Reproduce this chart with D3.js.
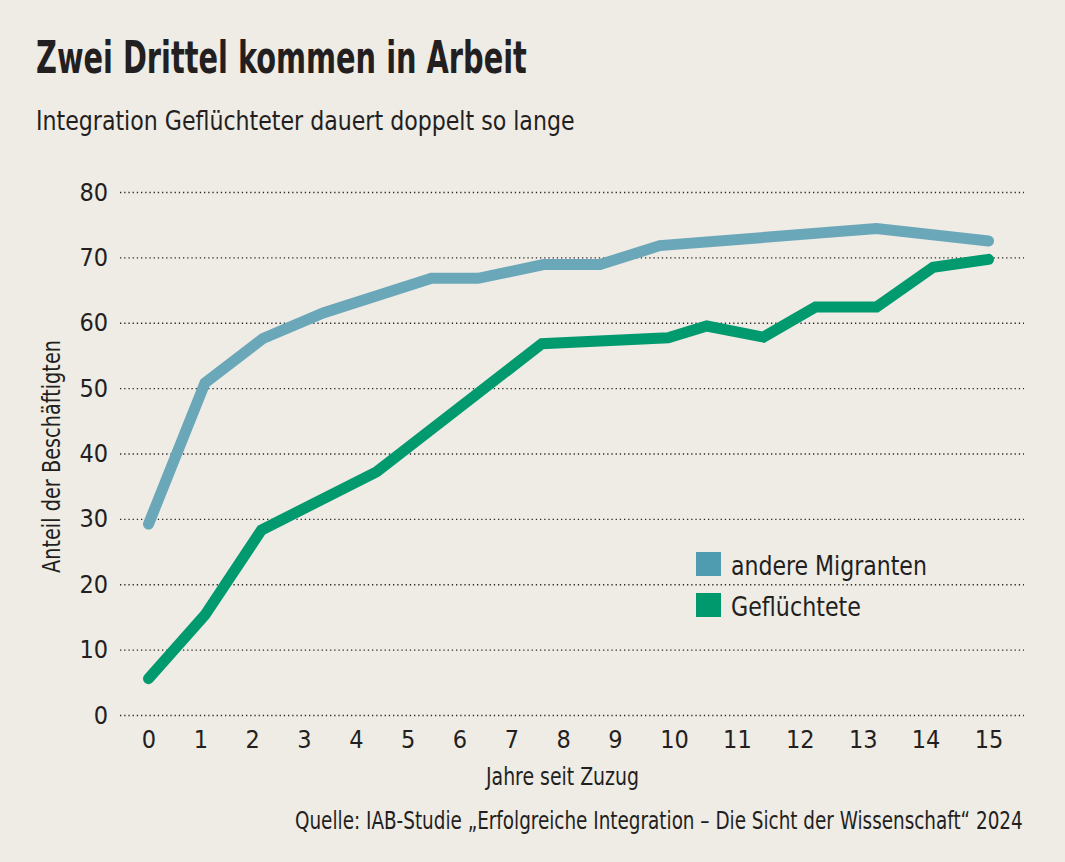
<!DOCTYPE html>
<html>
<head>
<meta charset="utf-8">
<script src="https://cdn.jsdelivr.net/npm/d3@7"></script>
<style>
  html, body { margin: 0; padding: 0; background: #efebe5; }
  svg { display: block; }
  text { font-family: "Liberation Sans Narrow", "DejaVu Sans Condensed", Roboto, sans-serif; fill: #231f20; }
</style>
</head>
<body>
<script>
// ---- data ----
const yTicks = [0, 10, 20, 30, 40, 50, 60, 70, 80];
const xTicks = [0, 1, 2, 3, 4, 5, 6, 7, 8, 9, 10, 11, 12, 13, 14, 15];

// andere Migranten: [Jahre seit Zuzug, Anteil]
const migrantenYears  = [0, 1.09, 2.21, 3.37, 5.46, 6.36, 7.62, 8.71, 9.76, 13.22, 15];
const migrantenValues = [29.2, 50.8, 57.6, 61.5, 66.8, 66.8, 68.9, 68.9, 71.8, 74.4, 72.5];

// Geflüchtete
const fluechtYears  = [0, 1.09, 2.18, 4.40, 7.59, 9.9, 10.52, 11.42, 12.25, 13.22, 14.12, 15];
const fluechtValues = [5.55, 15.3, 28.3, 37.2, 56.8, 57.7, 59.5, 57.8, 62.4, 62.4, 68.5, 69.7];

const seriesNames = ["andere Migranten", "Geflüchtete"];

// ---- layout ----
const W = 1065, H = 862;
const svg = d3.select("body").append("svg").attr("width", W).attr("height", H);
svg.append("rect").attr("width", W).attr("height", H).attr("fill", "#efebe5");

// tick label positions in the reference are not evenly spaced (wider after 10)
const x = d3.scaleLinear().domain([0, 9, 10, 15]).range([148.5, 615, 674, 988.5]);
const y = d3.scaleLinear().domain([0, 80]).range([715, 192]);

const lineColors = ["#6aa7b9", "#009a6e"];
const legendColors = ["#4f9bb0", "#00996d"];

// helper: put text at (tx,ty) and squeeze horizontally to target width
function fitText(g, tx, ty, width, str, size, weight) {
  const t = g.append("text").attr("x", 0).attr("y", 0)
    .attr("font-size", size).attr("font-weight", weight || "normal").text(str);
  const nat = t.node().getComputedTextLength();
  const s = Math.min(1, width / nat);
  t.attr("transform", `translate(${tx},${ty}) scale(${s},1)`);
  return t;
}

// title & subtitle
fitText(svg, 36, 73, 491, "Zwei Drittel kommen in Arbeit", 45, "bold");
fitText(svg, 36, 130, 539, "Integration Geflüchteter dauert doppelt so lange", 27);

// gridlines + y labels
const yAxis = d3.axisLeft(y).tickValues(yTicks).tickSize(0).tickPadding(0);
const gY = svg.append("g").call(yAxis);
gY.select(".domain").remove();
gY.selectAll(".tick text").remove();
gY.selectAll(".tick").append("line")
  .attr("x1", 120).attr("x2", 1024)
  .attr("stroke", "#2a2a2a").attr("stroke-width", 1.3)
  .attr("stroke-dasharray", "1.3,2.9");
gY.selectAll(".tick").append("text")
  .attr("x", 108).attr("y", 8)
  .attr("text-anchor", "end")
  .attr("font-size", 25)
  .attr("fill", "#231f20")
  .text(d => d);

// x labels
const xAxis = d3.axisBottom(x).tickValues(xTicks).tickSize(0).tickPadding(0);
const gX = svg.append("g").call(xAxis);
gX.select(".domain").remove();
gX.selectAll(".tick text")
  .attr("y", 748).attr("dy", null)
  .attr("font-size", 25)
  .attr("font-family", null)
  .attr("fill", "#231f20")
  .attr("text-anchor", "middle");

// axis titles
fitText(svg, 486, 785, 153, "Jahre seit Zuzug", 24);
svg.append("text")
  .attr("transform", "translate(60,456.5) rotate(-90)")
  .attr("text-anchor", "middle").attr("font-size", 25)
  .attr("textLength", 233).attr("lengthAdjust", "spacingAndGlyphs")
  .text("Anteil der Beschäftigten");

// source
fitText(svg, 295, 829, 728, "Quelle: IAB-Studie „Erfolgreiche Integration – Die Sicht der Wissenschaft“ 2024", 24);

// lines
const line = d3.line().x(d => x(d[0])).y(d => y(d[1]));
const series = [
  d3.zip(migrantenYears, migrantenValues),
  d3.zip(fluechtYears, fluechtValues)
];
series.forEach((s, i) => {
  svg.append("path").datum(s)
    .attr("d", line)
    .attr("fill", "none")
    .attr("stroke", lineColors[i])
    .attr("stroke-width", 11)
    .attr("stroke-linecap", "round")
    .attr("stroke-linejoin", "miter");
});

// legend
const legendW = [196, 130];
seriesNames.forEach((n, i) => {
  const yy = 552 + i * 41;
  svg.append("rect").attr("x", 696).attr("y", yy).attr("width", 25).attr("height", 24)
    .attr("fill", legendColors[i]);
  fitText(svg, 731, yy + 23, legendW[i], n, 27);
});
</script>
</body>
</html>
